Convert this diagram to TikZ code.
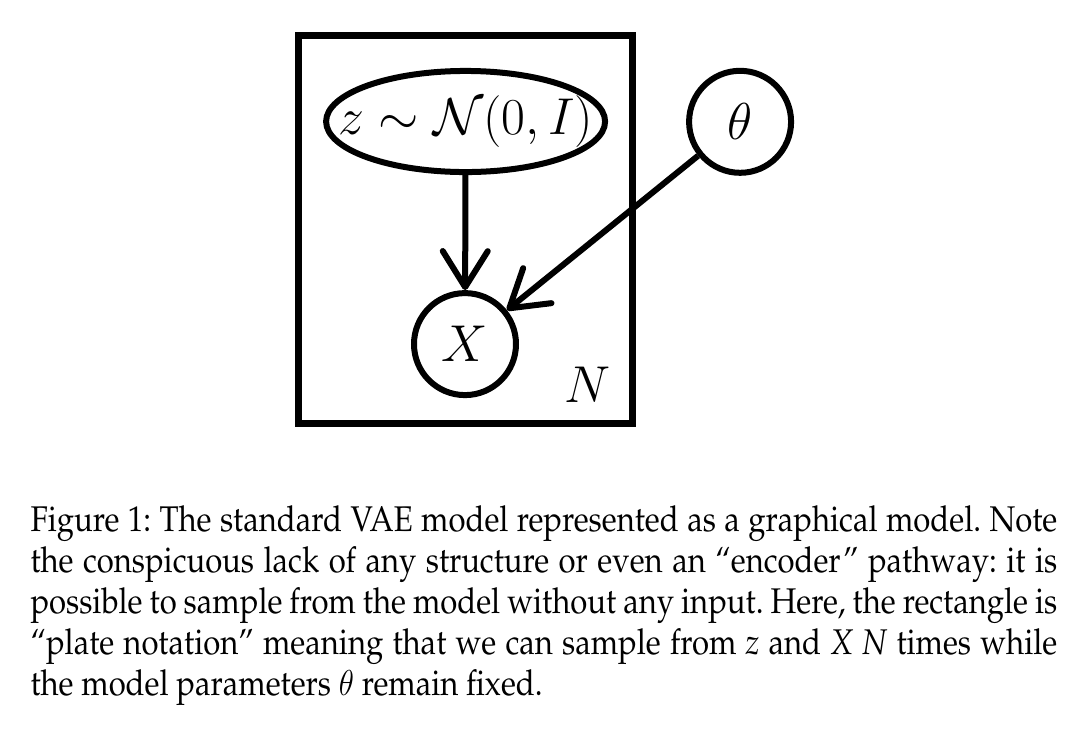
\documentclass[tikz,border=0pt]{standalone}
\usepackage[T1,TU]{fontenc}
\usepackage{tikz}
\usepackage{amsmath}
\usetikzlibrary{shapes.geometric, arrows.meta, positioning}
\newcommand{\capfont}{\fontencoding{T1}\fontfamily{ppl}\selectfont\frenchspacing}

\begin{document}
\begin{tikzpicture}[
    x=1pt, y=1pt,
    latent_node/.style={ellipse, draw=black, line width=2pt, inner sep=0pt, minimum width=93pt, minimum height=33.7pt, font=\fontsize{16.5}{20}\selectfont},
    var_node/.style={circle, draw=black, line width=2pt, inner sep=0pt, minimum size=34pt, font=\fontsize{16.5}{20}\selectfont},
    plate_node/.style={rectangle, draw=black, line width=2.3pt, minimum width=111.3pt, minimum height=129.4pt},
    arrow/.style={-{Straight Barb[length=12pt, width=15pt, round]}, line width=2pt, draw=black}
]
\useasboundingbox (0,0) rectangle (360,-244);

\node[plate_node] (plate) at (155.2,-76.5) {};

% Nodes
\node[latent_node] (z) at (155.2,-40.5) {\makebox[0pt]{$z \sim \mathcal{N}(0, I)$}};
\node[var_node] (x) at (155,-114.7) {$X$};
\node[var_node] (theta) at (246.7,-40.6) {$\theta$};
\node[font=\fontsize{16.5}{20}\selectfont] (nlabel) at (196,-128.3) {$N$};

% Connections
\draw[arrow] (z) -- (x);
\draw[arrow] (theta) -- (x);

% Caption
\node[anchor=north west, inner sep=0pt, xscale=0.87, transform shape, text width=393.4pt, align=justify, font=\capfont\fontsize{11.9}{13.6}\selectfont] (caption) at (10,-168.5)
{Figure 1: The standard VAE model represented as a graphical model. Note\linebreak
the conspicuous lack of any structure or even an ``encoder'' pathway: it is\linebreak
possible to sample from the model without any input. Here, the rectangle is\linebreak
``plate notation'' meaning that we can sample from \textit{z} and \textit{X} \textit{N} times while\linebreak
the model parameters $\theta$ remain fixed.};

\end{tikzpicture}
\end{document}
